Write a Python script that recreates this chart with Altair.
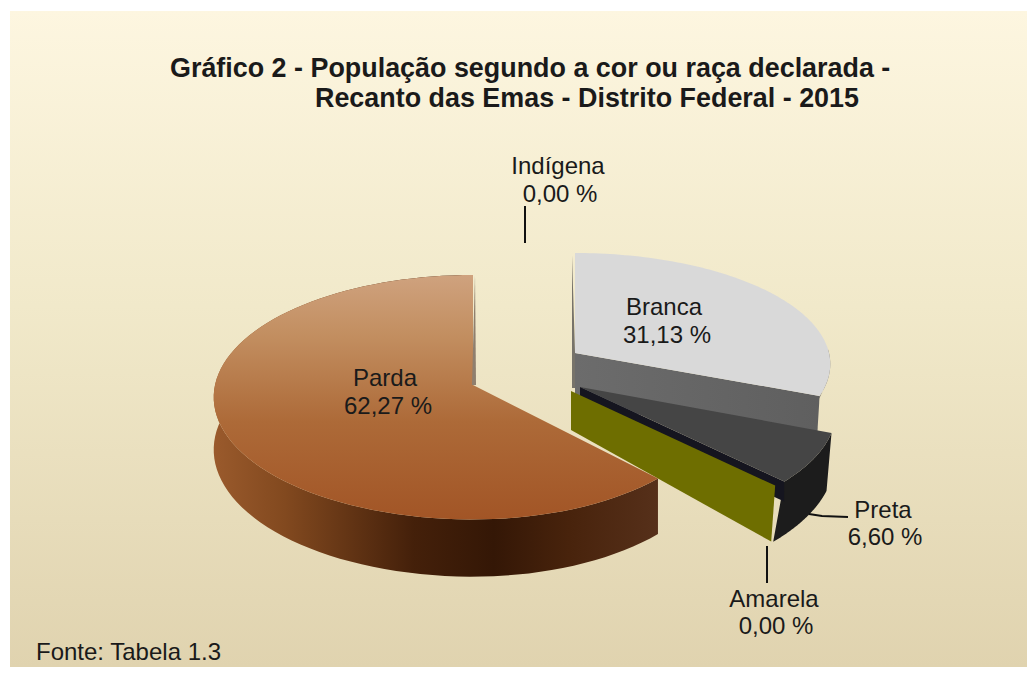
import math
import altair as alt
import pandas as pd

categories = ["Branca", "Preta", "Amarela", "Parda", "Indígena"]
shares = [31.13, 6.60, 0.00, 62.27, 0.00]

TITLE_1 = "Gráfico 2 - População segundo a cor ou raça declarada -"
TITLE_2 = "Recanto das Emas - Distrito Federal - 2015"
SOURCE = "Fonte: Tabela 1.3"
FONT = "Liberation Sans"


def lbl(v):
    return f"{v:.2f}".replace(".", ",") + " %"


def deg(pct):
    return pct * 3.6


def proj(c, R, kR, a, d=0.10, right=1.0):
    t = math.radians(a)
    X, Y = math.sin(t), math.cos(t)
    s = 1 / (1 + Y * d)
    return c[0] + R * X * s * (right if X > 0 else 1.0), c[1] - kR * Y * s


def steps(a0, a1, n=90):
    return [a0 + (a1 - a0) * i / n for i in range(n + 1)]


def top_poly(c, R, kR, a0, a1, d=0.10, right=1.0):
    return [c] + [proj(c, R, kR, a, d, right) for a in steps(a0, a1)]


def rim_poly(c, R, kR, a0, a1, th, d=0.10, shift=(0.0, 0.0), right=1.0):
    upper = [proj(c, R, kR, a, d, right) for a in steps(a0, a1)]
    n = len(upper) - 1
    lower = [(x + shift[0] + (shift[1] - shift[0]) * i / n,
              y + th * (1 + 0.09 * (y - c[1]) / kR)) for i, (x, y) in enumerate(upper)]
    return upper + lower[::-1]


def wall_poly(c, R, kR, a, th_in, th_out, d=0.10, lean=0.0):
    p = proj(c, R, kR, a, d)
    return [c, p, (p[0] + lean, p[1] + th_out), (c[0], c[1] + th_in)]


X = alt.X("x:Q", scale=alt.Scale(domain=[8, 1027], nice=False, zero=False), axis=None)
Y = alt.Y("y:Q", scale=alt.Scale(domain=[8, 667], nice=False, zero=False, reverse=True), axis=None)


def grad(stops, horizontal=False):
    return alt.LinearGradient(
        gradient="linear",
        x1=0, y1=0,
        x2=1 if horizontal else 0,
        y2=0 if horizontal else 1,
        stops=[alt.GradientStop(offset=o, color=col) for o, col in stops],
    )


def poly(points, fill):
    df = pd.DataFrame({"i": range(len(points)),
                       "x": [p[0] for p in points],
                       "y": [p[1] for p in points]})
    return alt.Chart(df).mark_line(fill=fill, strokeWidth=0, strokeOpacity=0, interpolate="linear").encode(
        x=X, y=Y, order="i:Q")


def text(s, x, y, size=24, weight="normal", align="center"):
    return alt.Chart(pd.DataFrame({"t": [s]})).mark_text(
        font=FONT, fontSize=size, fontWeight=weight, align=align, baseline="alphabetic", color="#1a1a1a"
    ).encode(x=alt.value(x - 8), y=alt.value(y - 8), text="t:N")


def leader(pts):
    df = pd.DataFrame({"i": range(len(pts)), "x": [p[0] for p in pts], "y": [p[1] for p in pts]})
    return alt.Chart(df).mark_line(color="#111111", strokeWidth=2).encode(x=X, y=Y, order="i:Q")


val = dict(zip(categories, shares))
a_branca = deg(val["Branca"])
a_preta = a_branca + deg(val["Preta"])
a_amarela = a_preta + deg(val["Amarela"])
a_parda = a_amarela + deg(val["Parda"])

panel = alt.Chart(pd.DataFrame({"a": [0]})).mark_rect(
    fill=grad([(0, "#fdf6e0"), (0.45, "#f1e9ca"), (1, "#e0d3af")])
).encode(x=alt.value(2), x2=alt.value(1019), y=alt.value(3), y2=alt.value(659))

cB, cP, cA, cD = (575, 353), (580, 387), (571, 391), (473, 385)

layers = [panel]
# Branca
layers.append(poly(rim_poly(cB, 254, 110, 88, a_branca, 8, shift=(-4, -4)), "#77736a"))
layers.append(poly([(572, 255), cB, (cB[0], cB[1] + 35), (cB[0] - 3, cB[1] + 35)], "#77736a"))
layers.append(poly(wall_poly(cB, 254, 110, a_branca, 50, 50, lean=-3),
                   grad([(0, "#6c6c6c"), (1, "#5f5f5f")], True)))
layers.append(poly(top_poly(cB, 254, 110, 0, a_branca), "#d9d9d9"))
# Preta
layers.append(poly(rim_poly(cP, 251, 113, a_branca, a_preta, 56, d=0.2, shift=(-5, -11)), "#1c1c1c"))
layers.append(poly(wall_poly(cP, 251, 113, a_preta, 20, 20, d=0.2), "#15151f"))
layers.append(poly(top_poly(cP, 251, 113, a_branca, a_preta, d=0.2), "#454545"))
# Amarela (zero share: only its wall is visible)
layers.append(poly(wall_poly(cA, 251, 113, a_amarela, 39, 56, d=0.2, lean=-4), "#6e6e00"))
# Parda
layers.append(poly(rim_poly(cD, 258, 121, a_amarela, a_parda, 52, right=0.955),
                   grad([(0, "#9a5a2c"), (0.16, "#82491f"), (0.45, "#44200a"), (0.63, "#341706"),
                         (0.8, "#48230c"), (1, "#56301a")], True)))
layers.append(poly(top_poly(cD, 258, 121, a_amarela, a_parda, right=0.955),
                   grad([(0, "#cfa27e"), (0.25, "#c28e60"), (0.6, "#ad6a38"), (1, "#a25526")])))
layers.append(poly([(475, 275), (472, 385), (476, 385)], "#8f7f6e"))

layers += [
    leader([(525, 206), (525, 243)]),
    leader([(767, 546), (767, 583)]),
    leader([(809, 514), (822, 516), (848, 517)]),
    text(TITLE_1, 170, 77, 26.9, "bold", "left"),
    text(TITLE_2, 315, 107, 26.9, "bold", "left"),
    text("Indígena", 558, 174),
    text(lbl(val["Indígena"]), 560, 202),
    text("Branca", 664, 315),
    text(lbl(val["Branca"]), 667, 343),
    text("Parda", 385, 386),
    text(lbl(val["Parda"]), 388, 414),
    text("Preta", 883, 518),
    text(lbl(val["Preta"]), 885, 545),
    text("Amarela", 774, 607),
    text(lbl(val["Amarela"]), 776, 634),
    text(SOURCE, 36, 660, 24, "normal", "left"),
]

chart = alt.layer(*layers).properties(width=1019, height=659, padding=0, autosize="none").configure_view(stroke=None)
chart.save("out.html", embed_options={"renderer": "svg", "actions": False})
